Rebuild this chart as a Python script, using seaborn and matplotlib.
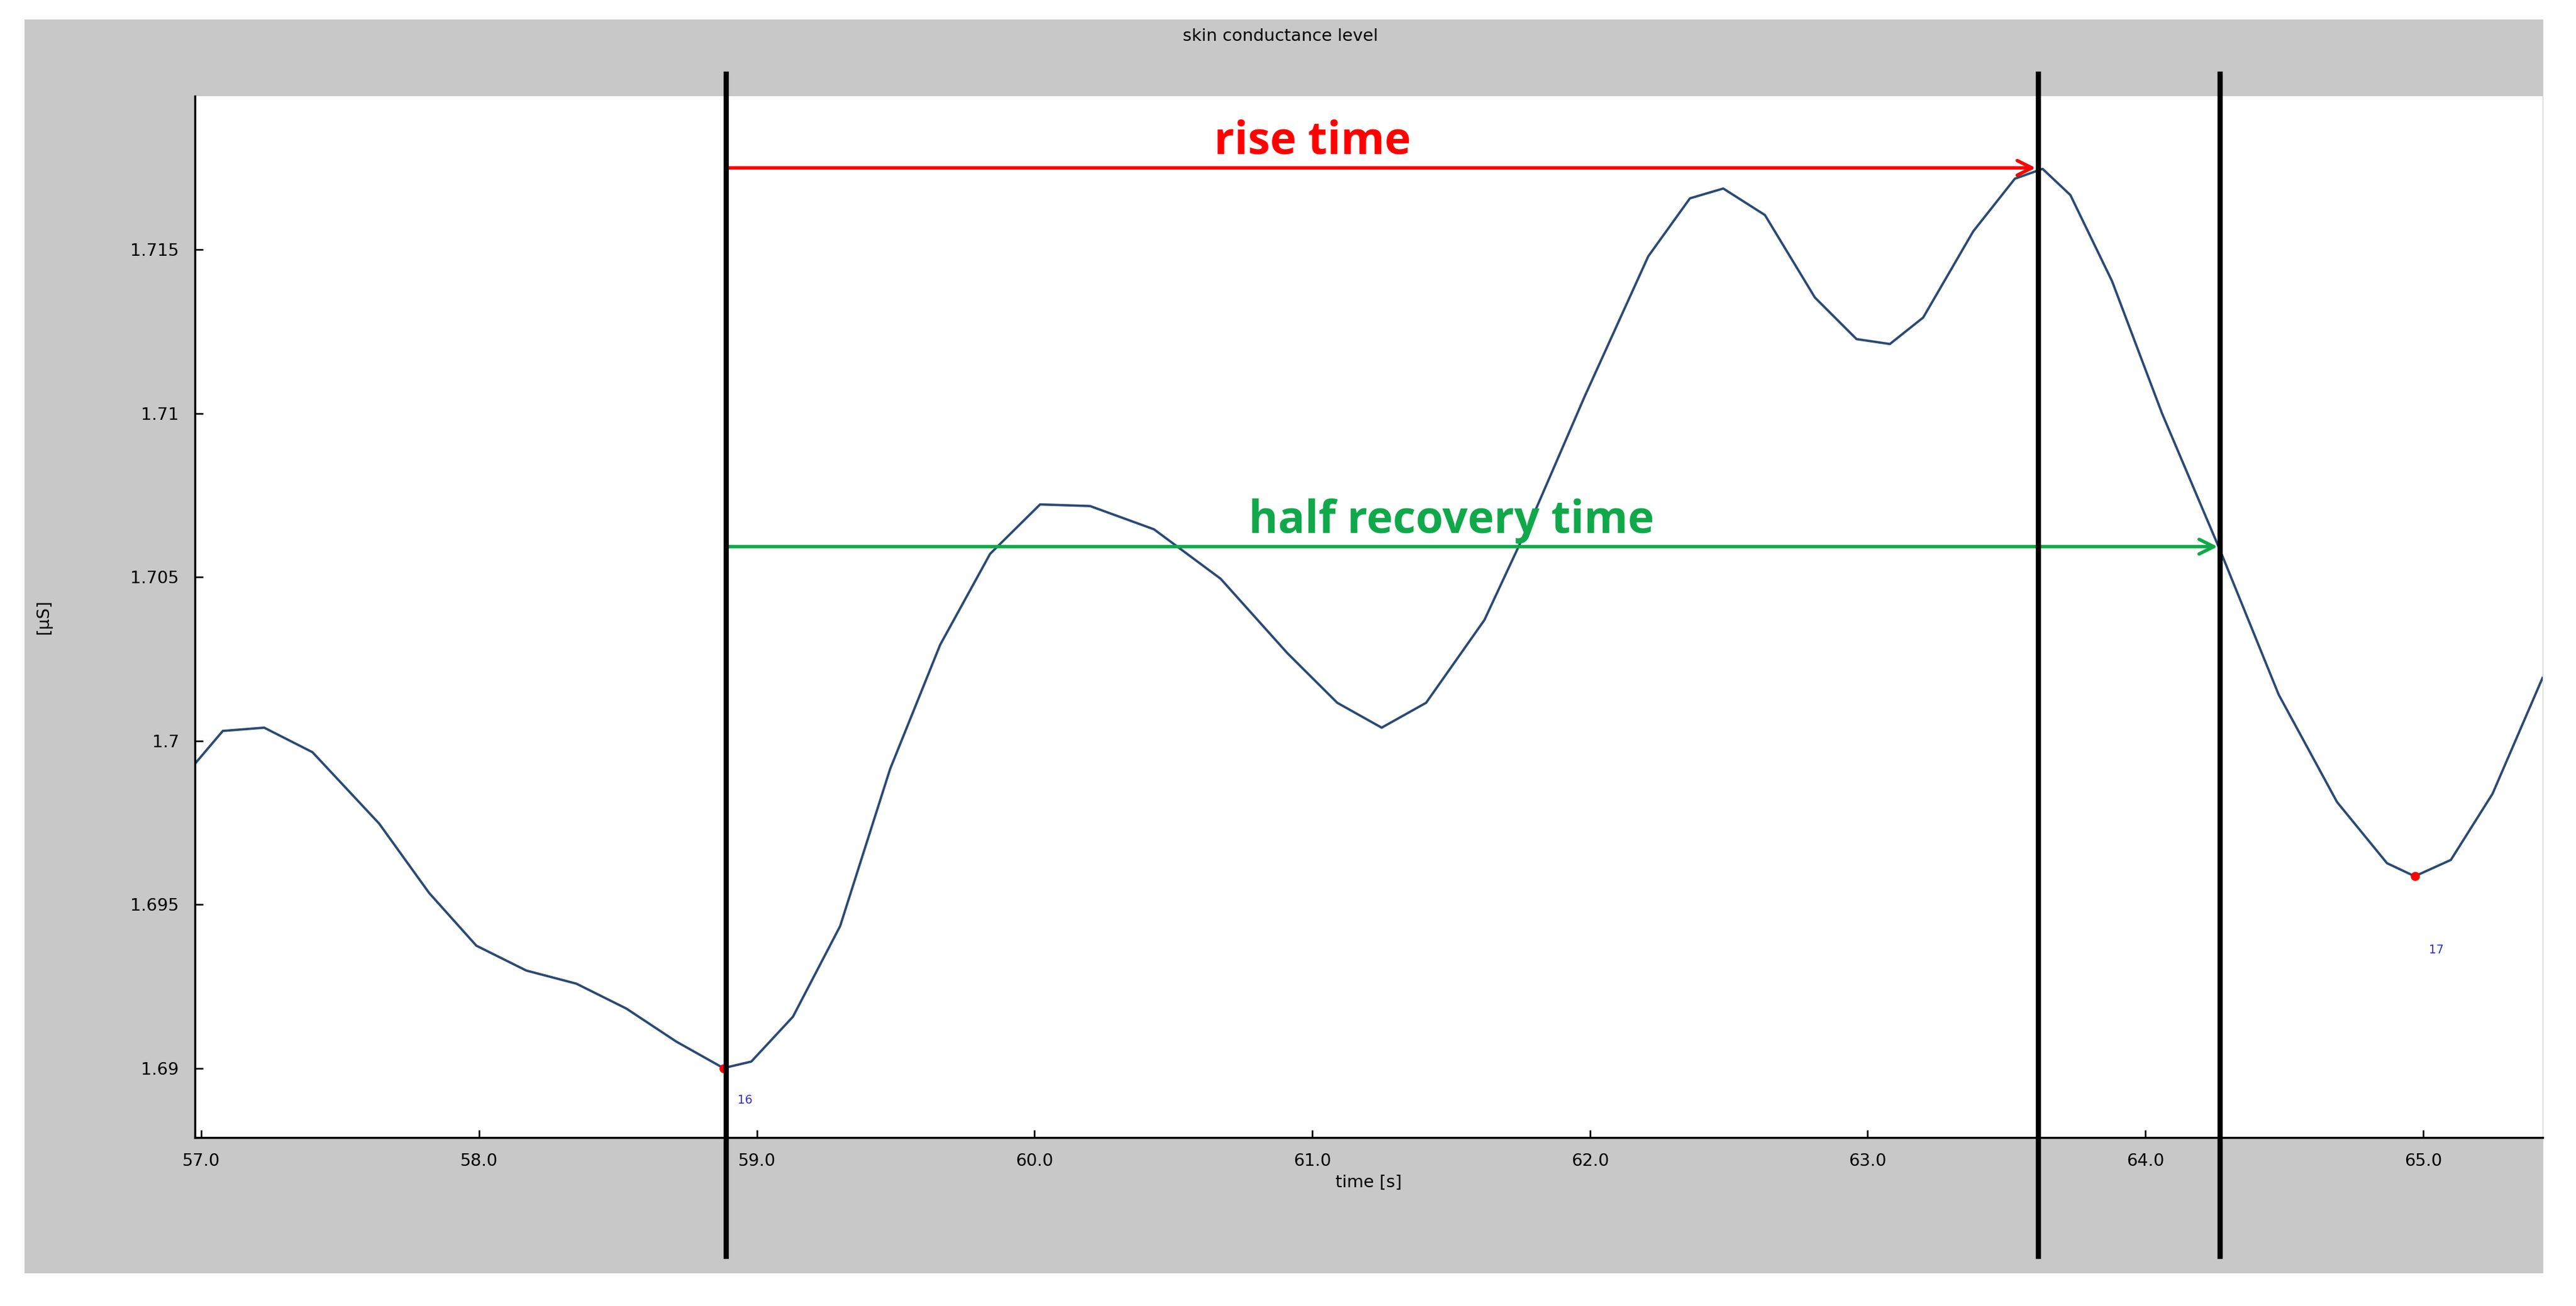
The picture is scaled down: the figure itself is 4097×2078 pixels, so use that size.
import matplotlib.pyplot as plt
import matplotlib.transforms as mtransforms
from matplotlib.patches import Rectangle
import seaborn as sns
import pandas as pd

# skin conductance trace (time [s], level [uS])
time_s = [56.976, 57.077, 57.226, 57.40, 57.64, 57.82, 57.99, 58.17, 58.35, 58.53,
          58.71, 58.88, 58.98, 59.13, 59.30, 59.48, 59.66, 59.84, 60.02, 60.20,
          60.43, 60.67, 60.91, 61.09, 61.25, 61.41, 61.62, 61.80, 61.98, 62.21,
          62.36, 62.48, 62.63, 62.81, 62.96, 63.08, 63.20, 63.38, 63.53, 63.63,
          63.73, 63.88, 64.06, 64.27, 64.48, 64.69, 64.87, 64.97, 65.10, 65.25, 65.43]
level_us = [1.69929, 1.70030, 1.70040, 1.69965, 1.69747, 1.69535, 1.69374, 1.69298, 1.69258, 1.69182,
            1.69081, 1.69000, 1.69020, 1.69157, 1.69434, 1.69914, 1.70293, 1.70571, 1.70722, 1.70717,
            1.70646, 1.70495, 1.70268, 1.70116, 1.70040, 1.70116, 1.70369, 1.70697, 1.71050, 1.71480,
            1.71657, 1.71687, 1.71606, 1.71354, 1.71227, 1.71212, 1.71293, 1.71556, 1.71717, 1.71747,
            1.71667, 1.71404, 1.71000, 1.70580, 1.70141, 1.69813, 1.69626, 1.69586, 1.69636, 1.69838, 1.70192]

# detected minima
min_times = [58.88, 64.97]
min_levels = [1.6900, 1.69586]
min_labels = ["16", "17"]

# event markers
onset_t = 58.89
peak_t = 63.615
half_rec_t = 64.27
rise_y = 1.7175
half_y = 1.70593

x_ticks = [57.0, 58.0, 59.0, 60.0, 61.0, 62.0, 63.0, 64.0, 65.0]
y_ticks = [1.69, 1.695, 1.70, 1.705, 1.71, 1.715]
y_tick_labels = ["1.69", "1.695", "1.7", "1.705", "1.71", "1.715"]

df = pd.DataFrame({"time": time_s, "level": level_us})

fig = plt.figure(figsize=(4097 / 300, 2078 / 300), dpi=300)
fig.patch.set_facecolor("white")
fig.patches.append(Rectangle((0.0096, 0.025), 0.9776, 0.96, transform=fig.transFigure,
                             facecolor="#c8c8c8", edgecolor="none", zorder=-10))
fig.text(0.497, 0.972, "skin conductance level", ha="center", va="center", fontsize=6.5)

ax = fig.add_axes([0.0756, 0.129, 0.9114, 0.7976])
ax.set_zorder(5)
ax.set_facecolor("white")
sns.lineplot(data=df, x="time", y="level", ax=ax, color="#2b4a72", linewidth=0.9,
             estimator=None, sort=False)
ax.scatter(min_times, min_levels, color="red", s=6, zorder=5)
ax.text(min_times[0] + 0.05, 1.6892, min_labels[0], color="#3030d0", fontsize=4.5, va="top")
ax.text(min_times[1] + 0.05, 1.6936, min_labels[1], color="#3030d0", fontsize=4.5, va="center")

ax.set_xlim(56.976, 65.43)
ax.set_ylim(1.68788, 1.7197)
ax.set_xticks(x_ticks)
ax.set_xticklabels([f"{t:.1f}" for t in x_ticks])
ax.set_yticks(y_ticks)
ax.set_yticklabels(y_tick_labels)
ax.tick_params(labelsize=6.5, direction="in", length=3, width=0.6, pad=6)
ax.set_xlabel("time [s]", fontsize=6.5, labelpad=2)
ax.set_ylabel("[µS]", fontsize=6.5, labelpad=30)
for side in ["top", "right"]:
    ax.spines[side].set_visible(False)
for side in ["left", "bottom"]:
    ax.spines[side].set_linewidth(0.8)

trans = mtransforms.blended_transform_factory(ax.transData, ax.transAxes)
for t in [onset_t, peak_t, half_rec_t]:
    ax.plot([t, t], [-0.114, 1.0206], transform=trans, color="black", linewidth=2.0,
            clip_on=False, zorder=6)

ax.annotate("", xy=(peak_t - 0.01, rise_y), xytext=(onset_t, rise_y),
            arrowprops=dict(arrowstyle="->", color="red", lw=1.3, mutation_scale=14,
                            shrinkA=0, shrinkB=0))
ax.text(61.0, rise_y + 0.0001, "rise time", color="red", fontsize=17, fontweight="bold",
        fontfamily="Open Sans", ha="center", va="bottom")
ax.annotate("", xy=(half_rec_t - 0.01, half_y), xytext=(onset_t, half_y),
            arrowprops=dict(arrowstyle="->", color="#10a84a", lw=1.3, mutation_scale=14,
                            shrinkA=0, shrinkB=0))
ax.text(61.5, half_y + 0.0001, "half recovery time", color="#10a84a", fontsize=17,
        fontweight="bold", fontfamily="Open Sans", ha="center", va="bottom")

fig.savefig("out.png", dpi=300)
